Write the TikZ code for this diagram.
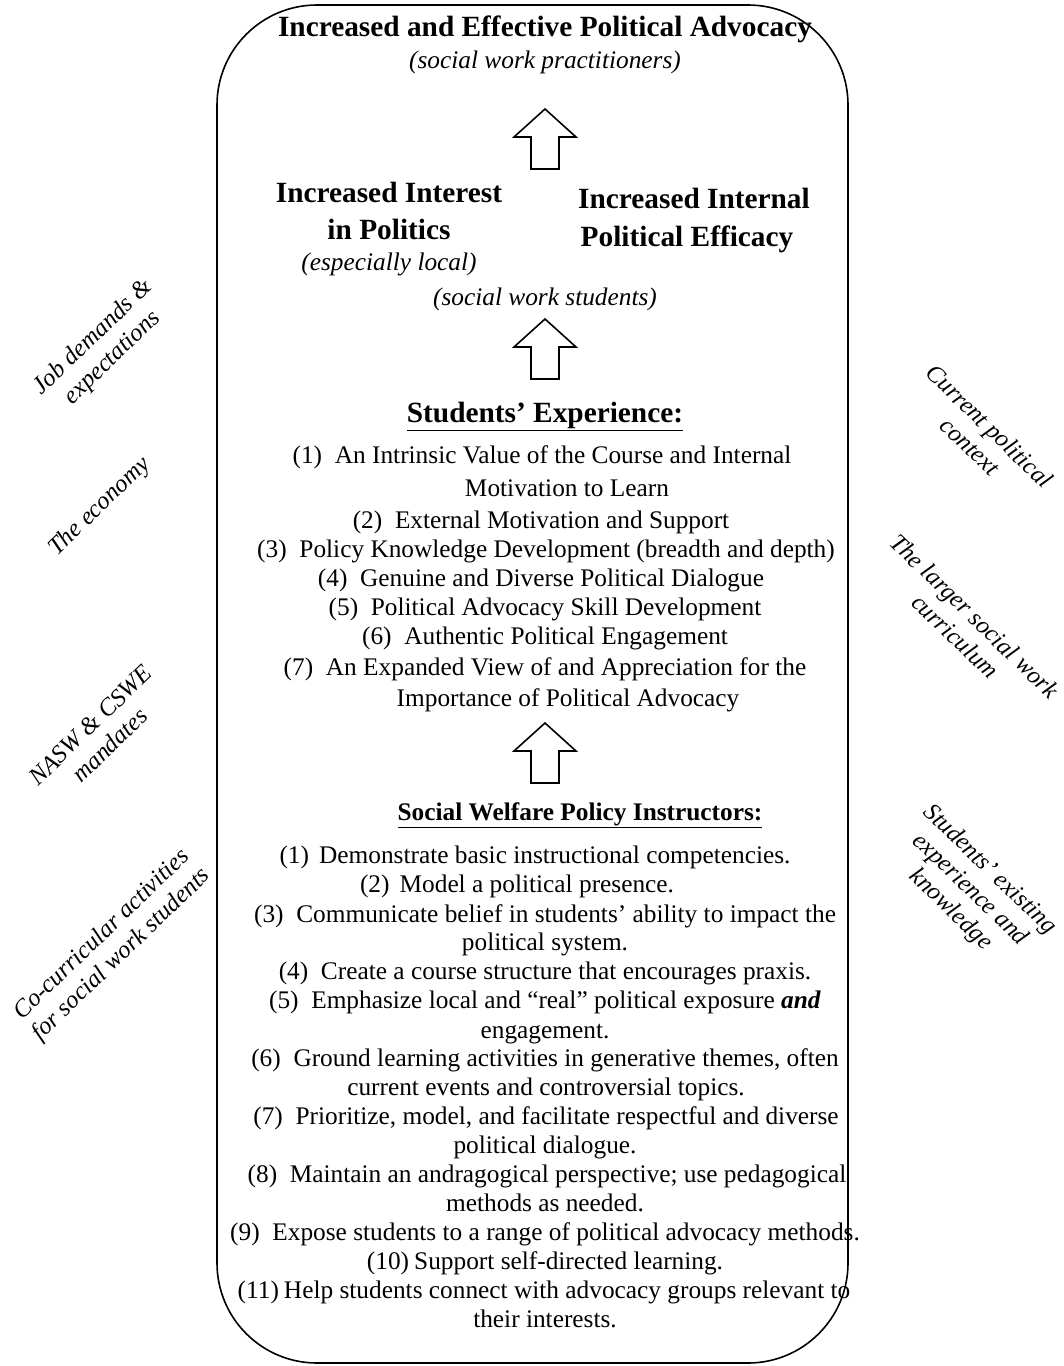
\documentclass[tikz,border=0pt]{standalone}
\usepackage{fontspec}
\setmainfont{Liberation Serif}
\begin{document}
\begin{tikzpicture}[x=0.75pt,y=-0.75pt,
  body/.style={font=\fontsize{19}{22}\selectfont, inner sep=0pt, anchor=base},
  bighead/.style={font=\fontsize{22}{26}\selectfont\bfseries, inner sep=0pt, anchor=base},
  subhead/.style={font=\fontsize{19}{22}\selectfont\bfseries, inner sep=0pt, anchor=base},
  capt/.style={font=\fontsize{19}{22}\selectfont\itshape, inner sep=0pt, anchor=base},
  side/.style={font=\fontsize{18.5}{21}\selectfont\itshape, inner sep=0pt, align=center, anchor=center},
  frame/.style={draw, line width=1.2pt, rounded corners=75pt},
  uparrow/.pic={\draw[line width=1.2pt, line join=miter] (0,0) -- (31,28) -- (14,28) -- (14,60) -- (-14,60) -- (-14,28) -- (-31,28) -- cycle;}
]
\useasboundingbox (0,0) rectangle (1063,1366);
\draw[frame] (217,5) rectangle (848,1363);

% top
\node[bighead] (t1) at (545,37) {Increased and Effective Political Advocacy};
\node[capt] (t2) at (545,69) {(social work practitioners)};
\pic at (545,109) {uparrow};
\node[bighead] (t3) at (389,202) {Increased Interest};
\node[bighead] (t4) at (389,239) {in Politics};
\node[capt] (t5) at (389,270) {(especially local)};
\node[bighead] (t6) at (694,208) {Increased Internal};
\node[bighead] (t7) at (687,246) {Political Efficacy};
\node[capt] (t8) at (545,305) {(social work students)};
\pic at (545,319) {uparrow};

% students experience
\node[bighead] (s0) at (545,422) {\underline{Students’ Experience:}};
\node[body] (s1) at (542,463) {(1)\hspace{0.5em}An Intrinsic Value of the Course and Internal};
\node[body] (s1b) at (567,496) {Motivation to Learn};
\node[body] (s2) at (541,528) {(2)\hspace{0.5em}External Motivation and Support};
\node[body] (s3) at (546,557) {(3)\hspace{0.5em}Policy Knowledge Development (breadth and depth)};
\node[body] (s4) at (541,586) {(4)\hspace{0.5em}Genuine and Diverse Political Dialogue};
\node[body] (s5) at (545,615) {(5)\hspace{0.5em}Political Advocacy Skill Development};
\node[body] (s6) at (545,644) {(6)\hspace{0.5em}Authentic Political Engagement};
\node[body] (s7) at (545,675) {(7)\hspace{0.5em}An Expanded View of and Appreciation for the};
\node[body] (s7b) at (568,706) {Importance of Political Advocacy};
\pic at (545,723) {uparrow};

% instructors
\node[subhead] (i0) at (580,820) {\underline{Social Welfare Policy Instructors:}};
\node[body] (i1) at (535,863) {(1)\hspace{0.4em}Demonstrate basic instructional competencies.};
\node[body] (i2) at (517,892) {(2)\hspace{0.4em}Model a political presence.};
\node[body] (i3) at (545,922) {(3)\hspace{0.5em}Communicate belief in students’ ability to impact the};
\node[body] (i3b) at (545,950) {political system.};
\node[body] (i4) at (545,979) {(4)\hspace{0.5em}Create a course structure that encourages praxis.};
\node[body] (i5) at (545,1008) {(5)\hspace{0.5em}Emphasize local and “real” political exposure \textbf{\textit{and}}};
\node[body] (i5b) at (545,1038) {engagement.};
\node[body] (i6) at (545,1066) {(6)\hspace{0.5em}Ground learning activities in generative themes, often};
\node[body] (i6b) at (546,1095) {current events and controversial topics.};
\node[body] (i7) at (546,1124) {(7)\hspace{0.5em}Prioritize, model, and facilitate respectful and diverse};
\node[body] (i7b) at (545,1153) {political dialogue.};
\node[body] (i8) at (547,1182) {(8)\hspace{0.5em}Maintain an andragogical perspective; use pedagogical};
\node[body] (i8b) at (545,1211) {methods as needed.};
\node[body] (i9) at (545,1240) {(9)\hspace{0.5em}Expose students to a range of political advocacy methods.};
\node[body] (i10) at (545,1269) {(10)\hspace{0.2em}Support self-directed learning.};
\node[body] (i11) at (544,1298) {(11)\hspace{0.2em}Help students connect with advocacy groups relevant to};
\node[body] (i11b) at (545,1327) {their interests.};

% side factors
\node[side, rotate=44] (l1) at (103,348) {Job demands \&\\expectations};
\node[side, rotate=44] (l2) at (100,507) {The economy};
\node[side, rotate=44] (l3) at (100,735) {NASW \& CSWE\\mandates};
\node[side, rotate=44] (l4) at (112,945) {Co-curricular activities\\for social work students};
\node[side, rotate=-44] (r1) at (980,436) {Current political\\context};
\node[side, rotate=-44] (r2) at (965,626) {The larger social work\\curriculum};
\node[side, rotate=-44] (r3) at (970,890) {Students’ existing\\experience and\\knowledge};
\end{tikzpicture}
\end{document}
